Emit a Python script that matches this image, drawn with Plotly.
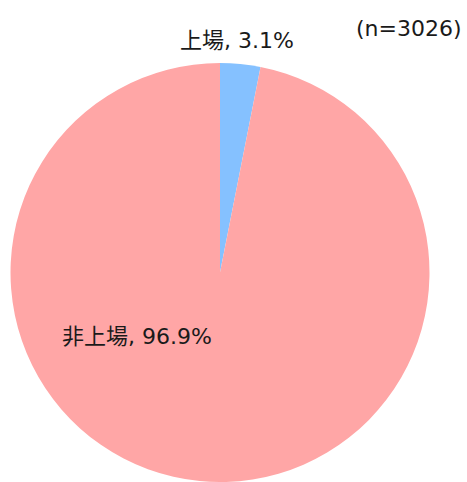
import plotly.graph_objects as go

labels = ["上場", "非上場"]
shares = [3.1, 96.9]
colors = ["#85C1FF", "#FFA6A6"]
sample_note = "(n=3026)"

W, H = 467, 482
FONT = "DejaVu Sans, Noto Sans CJK JP, sans-serif"

fig = go.Figure(
    go.Pie(
        labels=labels,
        values=shares,
        sort=False,
        direction="clockwise",
        rotation=0,
        marker=dict(colors=colors, line=dict(width=0)),
        textinfo="none",
        hoverinfo="label+percent",
        showlegend=False,
        domain=dict(x=[10 / W, 430 / W], y=[0, 1 - 63 / H]),
    )
)

# slice captions: outer one above the pie, inner one on the large slice
label_pos = [(237, 40), (137, 336)]
for lab, val, (px, py) in zip(labels, shares, label_pos):
    fig.add_annotation(
        x=px / W, y=1 - py / H, xref="paper", yref="paper",
        text=f"{lab}, {val}%", showarrow=False,
        font=dict(family=FONT, size=22, color="#1a1a1a"),
        xanchor="center", yanchor="middle",
    )

fig.add_annotation(
    x=409 / W, y=1 - 28 / H, xref="paper", yref="paper",
    text=sample_note, showarrow=False,
    font=dict(family=FONT, size=22, color="#1a1a1a"),
    xanchor="center", yanchor="middle",
)

fig.update_layout(
    width=W, height=H,
    margin=dict(l=0, r=0, t=0, b=0),
    paper_bgcolor="white", plot_bgcolor="white",
)

fig.write_html("out.html")
